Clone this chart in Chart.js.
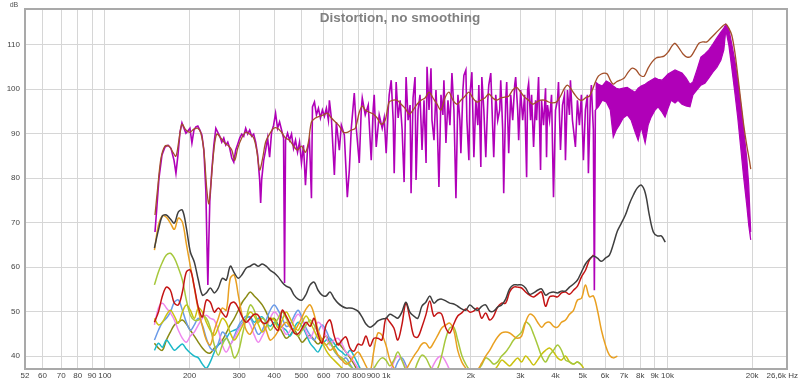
<!DOCTYPE html>
<html>
<head>
<meta charset="utf-8">
<script src="https://cdn.jsdelivr.net/npm/chart.js@4.4.0/dist/chart.umd.min.js"></script>
<style>
  html, body { margin: 0; padding: 0; background: #fff; }
  #wrap { width: 800px; height: 382px; }
</style>
</head>
<body>
<div id="wrap"><canvas id="distChart"></canvas></div>
<script>
// axis ticks
const xTicks = [52, 60, 70, 80, 90, 100, 200, 300, 400, 500, 600, 700, 800, 900, 1000, 2000, 3000, 4000, 5000, 6000, 7000, 8000, 9000, 10000, 20000, 26600];
const xTickLabels = ['52', '60', '70', '80', '90', '100', '200', '300', '400', '500', '600', '700', '800', '900', '1k', '2k', '3k', '4k', '5k', '6k', '7k', '8k', '9k', '10k', '20k', '26,6k Hz'];
const yTicks = [40, 50, 60, 70, 80, 90, 100, 110];

// fundamental, smoothed (brown)
const fundHz = [
  150.7, 154.4, 158.3, 163.5, 169, 174.6, 178.9, 183.3, 187.9, 194.1,
  200.5, 207.2, 214, 219.4, 224.8, 230.4, 234.2, 238, 244, 249.9,
  258.2, 266.7, 275.5, 282.5, 289.5, 296.7, 306.5, 316.6, 327, 337.9,
  346.4, 355, 363.8, 372.8, 385.1, 397.9, 411.1, 424.7, 438.8, 453.3,
  468.3, 483.8, 499.9, 516.4, 529.1, 542.4, 560.4, 579, 598.2, 618,
  638.5, 659.7, 681.6, 704.2, 727.5, 751.6, 776.5, 802.3, 822.2, 842.5,
  870.4, 899.3, 929.1, 960, 991.8, 1024.7, 1058.7, 1093.8, 1130.1, 1167.6,
  1206.3, 1246.3, 1287.6, 1330.3, 1374.4, 1420, 1467, 1516, 1566, 1618,
  1672, 1727, 1785, 1843, 1905, 1968, 2033, 2100, 2170, 2242,
  2316, 2393, 2472, 2554, 2639, 2726, 2817, 2910, 3006, 3106,
  3209, 3315, 3425, 3538, 3656, 3777, 3902, 4031, 4165, 4303,
  4410, 4519, 4668, 4823, 4983, 5148, 5276, 5406, 5541, 5678,
  5818, 5962, 6110, 6261, 6416, 6575, 6793, 7018, 7251, 7491,
  7740, 7996, 8261, 8535, 8818, 9110, 9412, 9724, 10047, 10380,
  10637, 10990, 11354, 11731, 12120, 12520, 12936, 13365, 13808, 14266,
  14738, 15226, 15731, 16121, 16519, 16928, 17348, 17776, 18216, 18668,
  19129, 19605, 19766
];
const fundDb = [
  71.7, 78.4, 84.5, 87.2, 87.2, 85.8, 84.9, 88.5, 92.1, 90.8,
  90.3, 91, 91.2, 90.1, 86.3, 77.3, 74.2, 78.4, 86.3, 89.9,
  89, 87.9, 87.2, 86.3, 84, 86.7, 89, 90.3, 89.9, 89,
  86.3, 81.8, 84.5, 88.1, 89.9, 91.2, 91.2, 90.3, 89, 88.5,
  87.2, 86.3, 87.2, 85.8, 88.1, 92.6, 93.5, 93.9, 94.2, 94.6,
  93.5, 92.6, 91.7, 90.3, 90.3, 90.8, 91.2, 94.8, 96.2, 95.3,
  94.8, 94.4, 93.5, 92.1, 93, 97.1, 97.5, 97.5, 96.6, 95.7,
  94.4, 95.3, 96.6, 97.5, 98, 99.3, 98, 96.6, 95.3, 98,
  99.3, 97.5, 96.6, 97.5, 98.4, 99.3, 98, 97.1, 97.5, 98,
  98.9, 98, 97.5, 98, 98.2, 98.4, 99.8, 100.4, 99.3, 98.2,
  97.5, 96.6, 97.1, 97.5, 97.5, 97.1, 96.9, 97.1, 98.4, 100.2,
  100.9, 100.2, 98.9, 97.8, 97.5, 98.2, 98.4, 99.8, 101.6, 102.9,
  103.4, 103.6, 103.4, 102, 101.1, 101.6, 102, 102.5, 103.8, 104.7,
  104.3, 103.1, 102.9, 104.7, 106.1, 107, 107.2, 107.4, 108.3, 109.7,
  110.3, 109.2, 107.9, 107.2, 107.4, 108.8, 110.3, 110.6, 110.6, 111.5,
  112.4, 113.3, 114.2, 114.6, 113.7, 112.1, 108.4, 103.1, 97.5, 91.9,
  87.4, 83.6, 82
];

// fundamental, raw (purple) up to 5.5k
const rawHz = [
  150.7, 153.2, 155.7, 159.6, 163.6, 167.7, 171.8, 176.1, 178.9, 181.9,
  184.9, 187.9, 191, 194.1, 197.3, 200.6, 203.9, 207.3, 210.6, 214,
  217.6, 221.2, 224.8, 228.5, 230.4, 232.3, 234.2, 236.1, 240, 244,
  248, 252, 256.2, 260.3, 264.6, 269, 273.4, 277.9, 282.5, 287.2,
  291.8, 296.6, 301.5, 306.5, 311.5, 316.6, 321.8, 327.1, 332.5, 338,
  343.6, 349.2, 355, 357.9, 360.8, 366.8, 372.7, 378.9, 385.1, 391.4,
  397.9, 404.4, 411, 417.8, 424.7, 431.7, 435.2, 438.8, 446, 453.3,
  460.8, 468.4, 476.1, 484, 491.9, 499.9, 508.2, 516.5, 525, 533.7,
  542.4, 546.9, 555.9, 565, 574.3, 583.7, 593.3, 603.1, 613, 623.1,
  628.2, 638.5, 654.3, 665.1, 681.5, 692.8, 709.9, 727.5, 739.5, 751.6,
  770.2, 782.9, 802.3, 815.5, 822.2, 842.5, 863.4, 884.8, 899.3, 906.7,
  921.6, 944.4, 967.9, 983.7, 1000, 1016.5, 1024.9, 1042, 1059, 1067.8,
  1085, 1103, 1121, 1139.5, 1158, 1177, 1196.5, 1216, 1226, 1246,
  1266.5, 1277, 1298, 1319, 1341, 1363, 1386, 1397, 1420, 1443,
  1455, 1479, 1503, 1516, 1540, 1566, 1591, 1604, 1631, 1658,
  1685, 1713, 1741, 1770, 1799, 1828, 1843, 1874, 1889, 1920,
  1936, 1968, 1984, 2017, 2050, 2083, 2117, 2135, 2170, 2188,
  2224, 2260, 2297, 2316, 2354, 2393, 2412, 2452, 2492, 2533,
  2554, 2596, 2617, 2660, 2682, 2726, 2771, 2817, 2863, 2886,
  2934, 2958, 3006, 3056, 3106, 3157, 3183, 3209, 3261, 3288,
  3342, 3397, 3425, 3481, 3538, 3567, 3626, 3686, 3716, 3746,
  3808, 3871, 3934, 3999, 4065, 4098, 4165, 4234, 4303, 4338,
  4410, 4482, 4519, 4594, 4707, 4785, 4863, 4943, 5025, 5107,
  5191, 5234, 5319, 5363, 5451, 5496, 5541
];
const rawDb = [
  67.9, 73.9, 80, 85.2, 87, 87.4, 86.7, 84, 81.1, 85.2,
  90.3, 92.4, 91.2, 90.1, 90.6, 91.2, 87.9, 90.8, 91.5, 91.7,
  90.8, 89.7, 86.3, 77.3, 66.1, 56, 66.1, 75, 81.8, 87.4,
  91.2, 90.3, 89.4, 88.1, 89, 87.4, 88.1, 86.7, 84.5, 83.6,
  86.3, 87.6, 89, 89.9, 89.4, 91.2, 89.9, 90.8, 89.4, 89.9,
  88.1, 85.2, 79.6, 74.4, 79.6, 84, 86.3, 89, 84.7, 90.3,
  91.9, 94.6, 91.2, 92.6, 90.8, 89, 56.4, 88.5, 90.1, 88.5,
  89.9, 86.7, 88.5, 85.8, 88.1, 83.4, 87.4, 78.4, 86.3, 88.5,
  75.5, 96, 97.1, 94.2, 95.7, 93.5, 95.3, 93.9, 95.7, 93,
  97.5, 93.5, 80.7, 92.6, 86.3, 91.9, 89.7, 75.7, 81.8, 91.2,
  99.1, 91.2, 83.4, 95.3, 98, 94.2, 96.4, 84, 95.7, 98.7,
  87, 94.2, 91.2, 93.5, 85.6, 95.3, 98.7, 102, 93, 81.1,
  101.6, 93.5, 97.5, 90.8, 79.1, 102.7, 93, 96.4, 76.6, 98,
  102.7, 79.6, 95.3, 98.7, 86.3, 97.5, 83.4, 105, 95.3, 104.7,
  93, 88.5, 99.8, 94.2, 78, 98.7, 94.2, 102, 87.9, 97.5,
  91.9, 103.6, 95.3, 75.5, 98.7, 93, 85.6, 99.8, 103.1, 104.3,
  93, 84, 98.7, 103.8, 84.7, 97.5, 91.9, 100.9, 82.5, 102.7,
  95.3, 84.7, 97.5, 100.9, 103.6, 90.8, 84.7, 98.7, 93, 95.3,
  102, 90.8, 76.6, 97.5, 101.6, 85.6, 98.7, 93, 100.9, 102.7,
  95.3, 88.5, 99.8, 93, 98.7, 80.2, 99.8, 101.3, 93, 98.7,
  87, 97.5, 93, 102.7, 81.8, 97.5, 91.9, 100.2, 84.7, 96.4,
  93, 98.7, 75.7, 95.3, 97.5, 101.6, 86.3, 96.4, 98.7, 84,
  99.8, 94.2, 102, 93, 87, 97.5, 91.9, 98.7, 84, 95.3,
  98.7, 81.1, 97.5, 100.9, 90.8, 54.8, 95.3
];

// raw fundamental above 5.5k: dense band, top and bottom edges
const bandHz = [
  5541, 5678, 5866, 6060, 6261, 6416, 6575, 6738, 6961, 7193,
  7430, 7677, 7867, 8062, 8329, 8536, 8746, 9036, 9260, 9567,
  9804, 10047, 10296, 10637, 10901, 11262, 11635, 12020, 12318, 12727,
  13148, 13584, 14035, 14500, 14981, 15477, 15861, 16121, 16521, 16930,
  17348, 17778, 18218, 18670, 19133, 19447, 19766
];
const bandTopDb = [
  101.6, 101.1, 100.7, 101.8, 101.3, 100.7, 100.2, 100, 100.2, 100.4,
  99.8, 99.3, 100.2, 100.7, 101.1, 101.6, 102, 102.5, 102.2, 102,
  102.7, 103.4, 103.8, 104.3, 104, 103.6, 102.5, 101.1, 101.6, 104.3,
  107.2, 107.9, 108.8, 110.1, 111.5, 112.8, 113.7, 114.6, 113.5, 110.1,
  106.5, 102, 96.6, 90.8, 84.5, 78.4, 67.9
];
const bandLowDb = [
  95.3, 96, 97.5, 97.1, 95.3, 89.2, 90.8, 91.9, 93.5, 94.2,
  93, 90.3, 88.5, 91.5, 87.9, 91.9, 93.7, 95.3, 96, 94.8,
  93.7, 95.7, 97.5, 96.9, 97.5, 96.6, 96.2, 96, 98.7, 99.8,
  100.9, 101.3, 102.5, 103.8, 104.9, 106.5, 108.8, 113.3, 109.9, 104.7,
  99.3, 93.5, 86.7, 80, 73.9, 69.4, 66.1
];

// frequency grid shared by THD and harmonics
const gridHz = [
  150, 155, 160.1, 165.4, 170.9, 176.6, 182.5, 188.6, 194.8, 201.3,
  208, 214.9, 222.1, 229.4, 237, 244.9, 253.1, 261.5, 270.1, 279.1,
  288.4, 298, 307.9, 318.1, 328.6, 339.6, 350.8, 362.5, 374.5, 386.9,
  399.8, 413.1, 426.8, 441, 455.6, 470.7, 486.4, 502.5, 519.2, 536.4,
  554.2, 572.6, 591.6, 611.3, 631.6, 652.5, 674.2, 696.6, 719.7, 743.6,
  768.3, 793.8, 820.2, 847.4, 875.6, 904.6, 934.7, 965.7, 997.8, 1031,
  1065, 1100, 1137, 1175, 1214, 1254, 1296, 1339, 1383, 1429,
  1477, 1526, 1576, 1629, 1683, 1739, 1796, 1856, 1918, 1981,
  2047, 2115, 2185, 2258, 2333, 2410, 2490, 2573, 2659, 2747,
  2838, 2932, 3030, 3130, 3234, 3342, 3453, 3567, 3686, 3808,
  3935, 4066, 4200, 4340, 4484, 4633, 4787, 4946, 5110, 5280,
  5455, 5636, 5824, 6017, 6217, 6423, 6636, 6857, 7085, 7320,
  7563, 7814, 8074, 8342, 8619, 8905, 9201, 9506, 9822, 10148
];

const thdDb = [
  64.3, 68.3, 71.5, 71.7, 70.8, 69.9, 72.4, 72.8, 68.8, 63.4,
  61.1, 57.1, 53.7, 54.2, 55.3, 54.2, 55.3, 57.5, 57.1, 60.2,
  58.7, 57.5, 58.4, 59.8, 60.2, 60.7, 60.2, 60.7, 60.2, 59.3,
  58.7, 57.8, 56.6, 55.7, 55.3, 53.7, 52.8, 52.6, 53.9, 56,
  56.6, 54.8, 53.7, 53.5, 54.4, 53, 51.9, 51.2, 50.8, 50.8,
  50.6, 50.1, 48.8, 47.2, 46.5, 47, 47.9, 48.3, 48.5, 49.4,
  49, 48.5, 49.9, 52.1, 49.9, 49, 48.5, 51.2, 52.1, 53.5,
  51.9, 52.6, 52.8, 52.4, 51.9, 51.7, 51.2, 50.6, 50.3, 51.5,
  50.8, 50.3, 51.2, 51.5, 50.1, 50.1, 51, 51.5, 52.8, 55.1,
  56, 56, 56, 55.3, 53.9, 54.2, 54.8, 55.1, 53.7, 54.2,
  54.4, 54.2, 54.6, 54.6, 55.5, 56.2, 57.1, 58.9, 60.7, 61.8,
  62.5, 62, 61.3, 62, 62.7, 65.2, 68.1, 69.9, 71.7, 74.2,
  76.2, 77.8, 78.4, 76.6, 71.7, 67.9, 67, 67, 65.6
];
const h2Db = [
  47.6, 49.9, 53.5, 55.5, 54.8, 51.9, 51.5, 54.4, 58.9, 59.3,
  55.5, 51, 48.8, 52.6, 52.1, 49.9, 50.8, 49.7, 48.8, 51.7,
  52.1, 50.8, 48.8, 47.6, 48.5, 49.4, 49.2, 47.6, 47.4, 48.5,
  46.7, 45.8, 50.3, 49, 47.2, 45.2, 45, 46.3, 47.6, 46.7,
  48.5, 44.9, 42.9, 47, 48.1, 44.7, 42.5, 43.6, 44.3, 41.8,
  41.1, 42.7, 42.5, 44.5, 42.2, 44, 44, 43.6, 48.5, 47.6,
  46.3, 43.6, 47, 51.9, 48.5, 44.5, 44.3, 46.5, 49.2, 52.4,
  49, 49.7, 49.4, 46.3, 45.2, 47.2, 49, 49.7, 50.6, 49.9,
  50.1, 50.8, 48.5, 49.7, 48.1, 49, 51, 51.9, 51.9, 54.4,
  55.5, 55.5, 55.3, 54.4, 53.7, 53.3, 53.9, 54.4, 51.2, 53.3,
  53.5, 53.3, 54.2, 54.4, 53.9, 54.8, 55.7, 57.8, 59.3, 61.6,
  62.7
];
const h3Db = [
  63.8, 69.4, 71.5, 71.2, 69.9, 68.5, 71, 70.1, 65.2, 60.2,
  55.3, 50.3, 46.7, 43.6, 42.5, 45.8, 48.5, 50.8, 50.3, 57.5,
  58.2, 53.7, 49, 45.8, 44.9, 46.7, 48.1, 47.6, 45.8, 43.6,
  44.3, 45.6, 46.7, 47.6, 46.5, 45.8, 47, 48.8, 50.6, 51.5,
  49.4, 45.8, 43.6, 42.5, 41.3, 41.8, 40.2, 39.1, 38.2, 38.7,
  40, 40.9, 39.6, 37.8, 36.4, 41.3, 45.2, 44.7, 42.5, 39.1,
  37.3, 35.7, 36.2, 36.9, 38.5, 40, 41.3, 42.7, 42.9, 41.8,
  43.1, 44.7, 46.3, 47, 47.4, 45.8, 41.3, 38.7, 37.3, 36.4,
  36, 36.9, 38.4, 40, 41.3, 42.9, 44.3, 45.2, 45.4, 45.2,
  44.5, 44, 44.5, 47.6, 49.4, 49, 47.6, 46.5, 47.4, 47.6,
  46.7, 46.5, 47.6, 48.1, 49.4, 50.3, 52.6, 53, 56, 53.3,
  53.5, 50.3, 45.8, 42.5, 40.2, 39.6, 40
];
const h4Db = [
  56, 58.9, 61.1, 62.7, 63.1, 62, 59.8, 57.1, 52.6, 49.2,
  48.1, 48.1, 49, 48.5, 46.3, 42.5, 40.2, 42.5, 44, 42.5,
  39.6, 40.9, 44.7, 48.5, 51.5, 50.3, 47.6, 48.5, 47.6, 45.8,
  47, 48.5, 49.9, 48.5, 46.7, 45.4, 44.5, 45.8, 47, 48.1,
  47, 45.2, 43.6, 42.5, 43.1, 41.3, 40.2, 39.6, 38.7, 37.8,
  36.9, 36.5, 35.8, 35.6, 36.5, 37.3, 38.7, 39.6, 39.1, 37.8,
  39.1, 40.9, 39.1, 36.9, 35.8, 36.5, 38.7, 40.2, 39.6, 37.8,
  36.4, 37.3, 40.2, 44, 46.3, 46.5, 43.6, 40.2, 38.2, 36.9,
  36.5, 36.9, 38, 39.6, 39.1, 38.2, 38.7, 40, 40.9, 42.2,
  43.6, 44.5, 45.4, 47.6, 47, 44.9, 42.5, 40, 38.7, 40.2,
  41.3, 42.5, 41.3, 39.1, 38.7, 38.2, 38.7, 38
];
const h5Db = [
  48.5, 47, 47.6, 49.2, 50.3, 49, 47.4, 49.9, 51.5, 50.3,
  48.5, 50.8, 49.9, 47.6, 45.8, 44.7, 46.5, 48.5, 47.6, 45.2,
  43.6, 44.9, 46.7, 48.5, 49.9, 49, 47.2, 45.4, 46.7, 48.5,
  48.1, 46.3, 48.1, 49.9, 48.5, 46.7, 45.8, 47.6, 49, 47.6,
  45.8, 44, 43.1, 41.3, 40, 39.1, 38.2, 37.3, 36.5, null,
  null, null, null, null, null, null, null, null, null, null,
  null, null, null, null, null, null, null, null, null, null,
  null, null, null, null, null, null, null, null, null, null,
  null, null, null, null, null, 36.5, 37.8, 39.1, 38.5, 37.8,
  38.7, 39.6, 38.7, 40, 39.1, 38, 39.1, 40.4, 41.3, 41.8,
  40.9, 39.6, 39.1, 40, 38.7, 38.2, 38.7, 38, 36.4
];
const h6Db = [
  47, 50.8, 51.9, 50.8, 49.7, 48.1, 45.8, 44, 43.1, 44.5,
  45.4, 47, 48.5, 49.2, 48.5, 48.1, 45.8, 42.5, 40.9, 42.5,
  44, 45.8, 47.2, 48.1, 47, 44.7, 43.1, 44.5, 46.3, 48.5,
  49.9, 49, 46.7, 44.9, 45.8, 48.1, 49.4, 48.1, 45.4, 44,
  45.8, 47.6, 46.7, 44.5, 42.5, 43.6, 44, 42.7, 40.9, 40,
  38.7, 37.3, 36, null, null, null, null, null, null, 36.2,
  38.7, 40, 39.1, 37.5, 36, null, null, null, null, 36.2,
  38.2, 39.6, 40, 38.7, 36.8
];
const h7Db = [
  43.6, 45.8, 47.6, 48.5, 49.9, 52.1, 52.6, 50.3, 47.6, 45.8,
  47, 48.5, 47, 44, 41.8, 41.3, 42.9, 45.4, 44.5, 42.7,
  44.5, 46.7, 48.1, 49, 48.5, 46.7, 44.9, 45.8, 48.1, 50.3,
  51.5, 50.3, 48.5, 46.7, 47.2, 49, 50.3, 48.5, 46.3, 44.7,
  43.6, 45.4, 47, 45.8, 43.6, 41.3, 40, 39.1, 39.6, 38.2,
  36.9, 36, null, null, null, null, null, null, null, null,
  36.4, 38.7, 39.6, 38, 36
];
const h8Db = [
  41.3, 42.9, 42, 43.6, 42.5, 41.3, 42, 42.7, 41.6, 40.7,
  40, 39.6, 38.2, 37.3, 38.7, 40.9, 42.5, 43.1, 44, 45.4,
  45.8, 46.3, 47.4, 48.5, 48.8, 47.6, 48.5, 48.8, 47.6, 46.7,
  47.6, 47, 46.5, 45.8, 44.5, 46.3, 47.6, 46.7, 44.9, 42.9,
  41.8, 40.9, 42.5, 43.6, 44, 42.9, 41.6, 40.9, 40.2, 41.3,
  40, 38.2, 36.4
];
const h9Db = [
  42.9, 41.8, 41.3, 43.6, 45.4, 47, 47.6, 48.1, 47.2, 45.8,
  44.5, 43.1, 41.8, 40.9, 40.7, 41.8, 42.5, 43.6, 45.2, 47,
  48.5, 50.3, 52.1, 53.3, 54.4, 53.5, 52.6, 51.5, 49.9, 48.1,
  48.5, 47, 45.4, 44, 44.7, 45.8, 44.5, 43.1, 44, 44.7,
  43.6, 42.7, 43.6, 44.5, 42.9, 42, 42.9, 42, 40.9, 39.6,
  38.2, 36.4
];

function pairUp(hz, db) {
  return hz.map((f, i) => ({ x: f, y: db[i] }));
}
function onGrid(db) {
  return db.map((v, i) => ({ x: gridHz[i], y: v }));
}
function harmonic(label, db, color, order) {
  return {
    label: label,
    data: onGrid(db),
    borderColor: color,
    borderWidth: 1.5,
    tension: 0.35,
    order: order
  };
}

const PURPLE = '#b000b8';
const FONT = '"Liberation Sans", Arial, sans-serif';

const frameAndTitle = {
  id: 'frameAndTitle',
  afterDraw(chart) {
    const ctx = chart.ctx;
    const a = chart.chartArea;
    ctx.save();
    ctx.strokeStyle = '#a9a9a9';
    ctx.lineWidth = 2;
    ctx.strokeRect(a.left, a.top, a.right - a.left, a.bottom - a.top);
    ctx.fillStyle = '#808080';
    ctx.font = 'bold 13.5px ' + FONT;
    ctx.textAlign = 'center';
    ctx.textBaseline = 'alphabetic';
    ctx.fillText('Distortion, no smoothing', 400, 22);
    ctx.fillStyle = '#555';
    ctx.font = '7px ' + FONT;
    ctx.fillText('dB', 14, 7);
    // last x label sits against the right edge
    ctx.fillStyle = '#444';
    ctx.font = '8px ' + FONT;
    ctx.textAlign = 'right';
    ctx.textBaseline = 'top';
    ctx.fillText(xTickLabels[xTickLabels.length - 1], 798, a.bottom + 3);
    ctx.restore();
  }
};

new Chart(document.getElementById('distChart'), {
  type: 'line',
  data: {
    datasets: [
      {
        label: 'Fundamental',
        data: pairUp(fundHz, fundDb),
        borderColor: '#a3502a',
        borderWidth: 1.3,
        tension: 0.3,
        order: 0
      },
      harmonic('THD', thdDb, '#3f3f3f', 1),
      harmonic('H2', h2Db, '#c41414', 2),
      harmonic('H3', h3Db, '#e9a021', 3),
      harmonic('H4', h4Db, '#a6c83c', 4),
      harmonic('H5', h5Db, '#cbc20f', 5),
      harmonic('H6', h6Db, '#ee88ee', 6),
      harmonic('H7', h7Db, '#6a9ae8', 7),
      harmonic('H8', h8Db, '#1cb8c8', 8),
      harmonic('H9', h9Db, '#8a8a14', 9),
      {
        label: 'Raw',
        data: pairUp(rawHz, rawDb),
        borderColor: PURPLE,
        borderWidth: 1.6,
        tension: 0,
        order: 10
      },
      {
        label: 'Raw top',
        data: pairUp(bandHz, bandTopDb),
        borderColor: PURPLE,
        borderWidth: 1.2,
        tension: 0,
        order: 11
      },
      {
        label: 'Raw bottom',
        data: pairUp(bandHz, bandLowDb),
        borderColor: PURPLE,
        backgroundColor: PURPLE,
        borderWidth: 1.2,
        tension: 0,
        fill: '-1',
        order: 12
      }
    ]
  },
  options: {
    responsive: true,
    maintainAspectRatio: false,
    animation: false,
    devicePixelRatio: 1,
    layout: { padding: { top: 9, right: 13, bottom: 0, left: 0 } },
    elements: { point: { radius: 0 } },
    plugins: {
      legend: { display: false },
      tooltip: { enabled: false }
    },
    scales: {
      x: {
        type: 'logarithmic',
        min: 52,
        max: 26600,
        afterBuildTicks: (s) => { s.ticks = xTicks.map(v => ({ value: v })); },
        afterFit: (s) => { s.height = 13; s.paddingLeft = 0; s.paddingRight = 0; },
        ticks: {
          autoSkip: false,
          maxRotation: 0,
          padding: 2,
          color: '#444',
          font: { family: FONT, size: 8 },
          callback: (v, i) => (i === xTicks.length - 1 ? '' : xTickLabels[i])
        },
        grid: { color: '#d6d6d6', lineWidth: 1, drawTicks: false },
        border: { display: false }
      },
      y: {
        min: 37.1,
        max: 118,
        afterBuildTicks: (s) => { s.ticks = yTicks.map(v => ({ value: v })); },
        afterFit: (s) => { s.width = 25; s.paddingTop = 0; s.paddingBottom = 0; },
        ticks: {
          padding: 5,
          color: '#444',
          font: { family: FONT, size: 8 },
          callback: (v) => String(v)
        },
        grid: { color: '#d6d6d6', lineWidth: 1, drawTicks: false },
        border: { display: false }
      }
    }
  },
  plugins: [frameAndTitle]
});
</script>
</body>
</html>
